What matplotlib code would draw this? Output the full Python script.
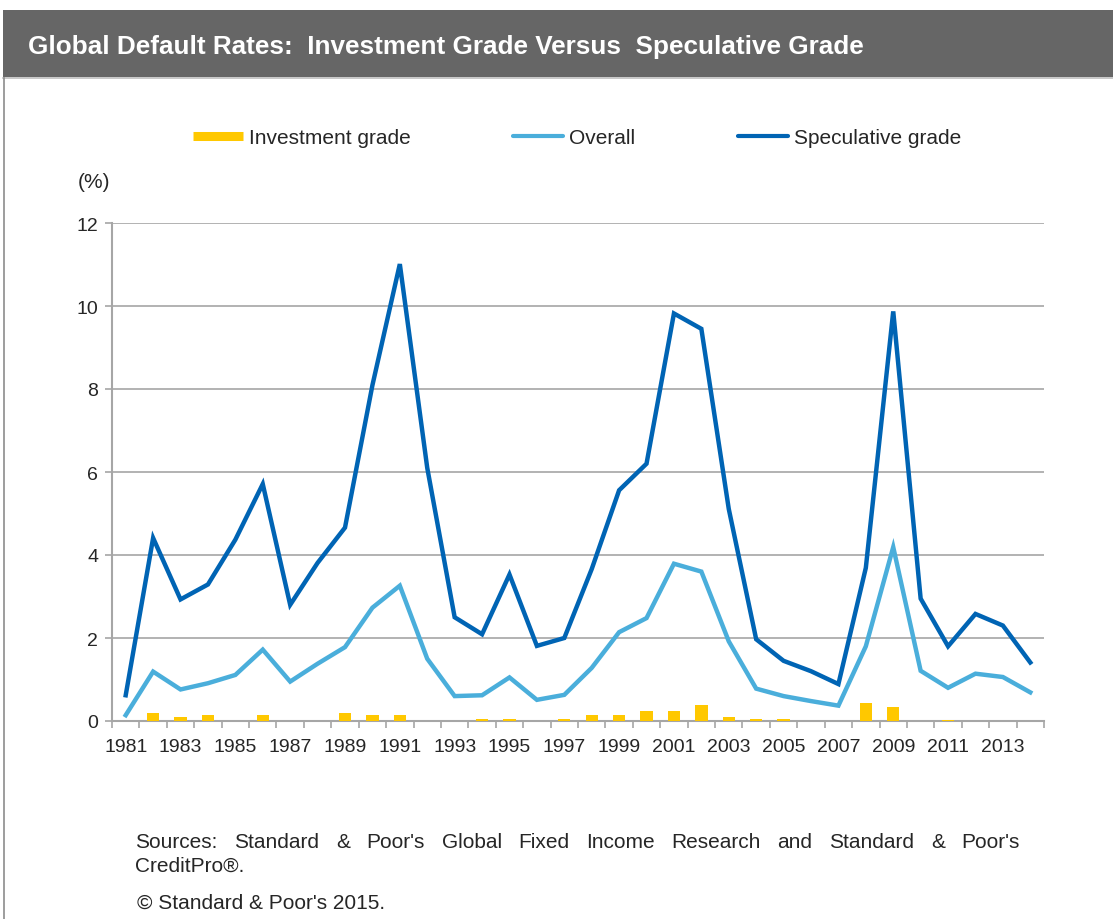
import matplotlib
matplotlib.use("Agg")
import matplotlib.pyplot as plt
from matplotlib.lines import Line2D
from matplotlib.patches import Rectangle
import numpy as np

plt.rcParams['font.family'] = ['Liberation Sans', 'DejaVu Sans']

years = list(range(1981, 2015))
investment = [0.00, 0.19, 0.10, 0.15, 0.00, 0.15, 0.00, 0.00, 0.19, 0.15,
              0.15, 0.00, 0.00, 0.05, 0.05, 0.00, 0.05, 0.15, 0.15, 0.25,
              0.25, 0.39, 0.10, 0.05, 0.05, 0.00, 0.00, 0.43, 0.34, 0.00,
              0.03, 0.00, 0.00, 0.00]
overall = [0.14, 1.19, 0.76, 0.91, 1.11, 1.72, 0.95, 1.38, 1.78, 2.73,
           3.26, 1.50, 0.60, 0.62, 1.05, 0.51, 0.63, 1.28, 2.14, 2.48,
           3.79, 3.60, 1.92, 0.78, 0.60, 0.48, 0.37, 1.80, 4.19, 1.21,
           0.80, 1.14, 1.06, 0.69]
speculative = [0.62, 4.41, 2.93, 3.29, 4.37, 5.71, 2.80, 3.81, 4.66, 8.09,
               11.01, 6.10, 2.50, 2.09, 3.53, 1.81, 2.00, 3.66, 5.56, 6.20,
               9.82, 9.45, 5.11, 1.97, 1.45, 1.20, 0.89, 3.69, 9.87, 2.95,
               1.80, 2.58, 2.30, 1.41]
series_names = ["Investment grade", "Overall", "Speculative grade"]
yticks = [0, 2, 4, 6, 8, 10, 12]

GOLD = "#FFC800"
LIGHT = "#4AAEDB"
DARK = "#0064B4"
GRID = "#A6A6A6"
TXT = "#262626"

W, H = 1113, 920
fig = plt.figure(figsize=(W / 100, H / 100), dpi=100)

# Title band
fig.add_artist(Rectangle((3 / W, 1 - 78 / H), 1, 67 / H, transform=fig.transFigure,
                         facecolor="#666666", edgecolor="none"))
fig.add_artist(Line2D([3 / W, 1], [1 - 79 / H, 1 - 79 / H], transform=fig.transFigure,
                      color="#BFBFBF", lw=1.2))
fig.add_artist(Line2D([3.5 / W, 3.5 / W], [0, 1 - 79 / H], transform=fig.transFigure,
                      color="#8C8C8C", lw=1.2))
fig.text(28 / W, 1 - 47 / H, "Global Default Rates:  Investment Grade Versus  Speculative Grade",
         color="white", fontsize=18.8, fontweight="bold", va="center", ha="left")

ax = fig.add_axes([112 / W, 1 - 722 / H, (1044 - 112) / W, (722 - 224) / H])
x = np.arange(len(years))
ax.bar(x, investment, width=0.45, color=GOLD, zorder=3)
ax.plot(x, overall, color=LIGHT, lw=3.2, zorder=4, solid_joinstyle="miter")
ax.plot(x, speculative, color=DARK, lw=3.2, zorder=5, solid_joinstyle="miter")

ax.set_xlim(-0.5, len(years) - 0.5)
ax.set_ylim(0, 12)
ax.set_yticks(yticks)
ax.set_yticklabels([str(v) for v in yticks])
ax.yaxis.grid(True, color=GRID, lw=1.2, zorder=0)
ax.set_axisbelow(True)

ax.set_xticks(x[::2])
ax.set_xticklabels([str(y) for y in years[::2]])
ax.set_xticks(np.arange(-0.5, len(years)), minor=True)
ax.tick_params(axis="x", which="major", length=0, pad=12, labelsize=14, labelcolor=TXT)
ax.tick_params(axis="x", which="minor", length=5, width=1.2, color=GRID, direction="out")
ax.tick_params(axis="y", length=5, width=1.2, color=GRID, pad=5, labelsize=14, labelcolor=TXT)

for s in ["top", "right"]:
    ax.spines[s].set_visible(False)
for s in ["left", "bottom"]:
    ax.spines[s].set_color(GRID)
    ax.spines[s].set_linewidth(1.5)

fig.text(78 / W, 1 - 183 / H, "(%)", fontsize=15, color=TXT, va="center", ha="left")

handles = [Line2D([], [], color=GOLD, lw=6.5, solid_capstyle="butt"),
           Line2D([], [], color=LIGHT, lw=3, solid_capstyle="round"),
           Line2D([], [], color=DARK, lw=3, solid_capstyle="round")]
fig.legend(handles, series_names, loc="center", bbox_to_anchor=(577 / W, 1 - 139 / H),
           ncol=3, frameon=False, fontsize=15, handlelength=2.4, handletextpad=0.3,
           columnspacing=4.9, labelcolor=TXT)

# Footer, first line justified
fig.canvas.draw()
renderer = fig.canvas.get_renderer()
words = "Sources: Standard & Poor's Global Fixed Income Research and Standard & Poor's".split()
left, right = 135, 1020
arts = []
for w_ in words:
    t = fig.text(0, 1 - 843 / H, w_, fontsize=15, color=TXT, va="center", ha="left")
    arts.append(t)
widths = [a.get_window_extent(renderer).width for a in arts]
gap = (right - left - sum(widths)) / (len(words) - 1)
cur = left
for a, wd in zip(arts, widths):
    a.set_x(cur / W)
    cur += wd + gap
fig.text(135 / W, 1 - 866 / H, "CreditPro®.", fontsize=15, color=TXT, va="center", ha="left")
fig.text(137 / W, 1 - 903 / H, "© Standard & Poor's 2015.", fontsize=15, color=TXT,
         va="center", ha="left")

fig.savefig("out.png", dpi=100)
